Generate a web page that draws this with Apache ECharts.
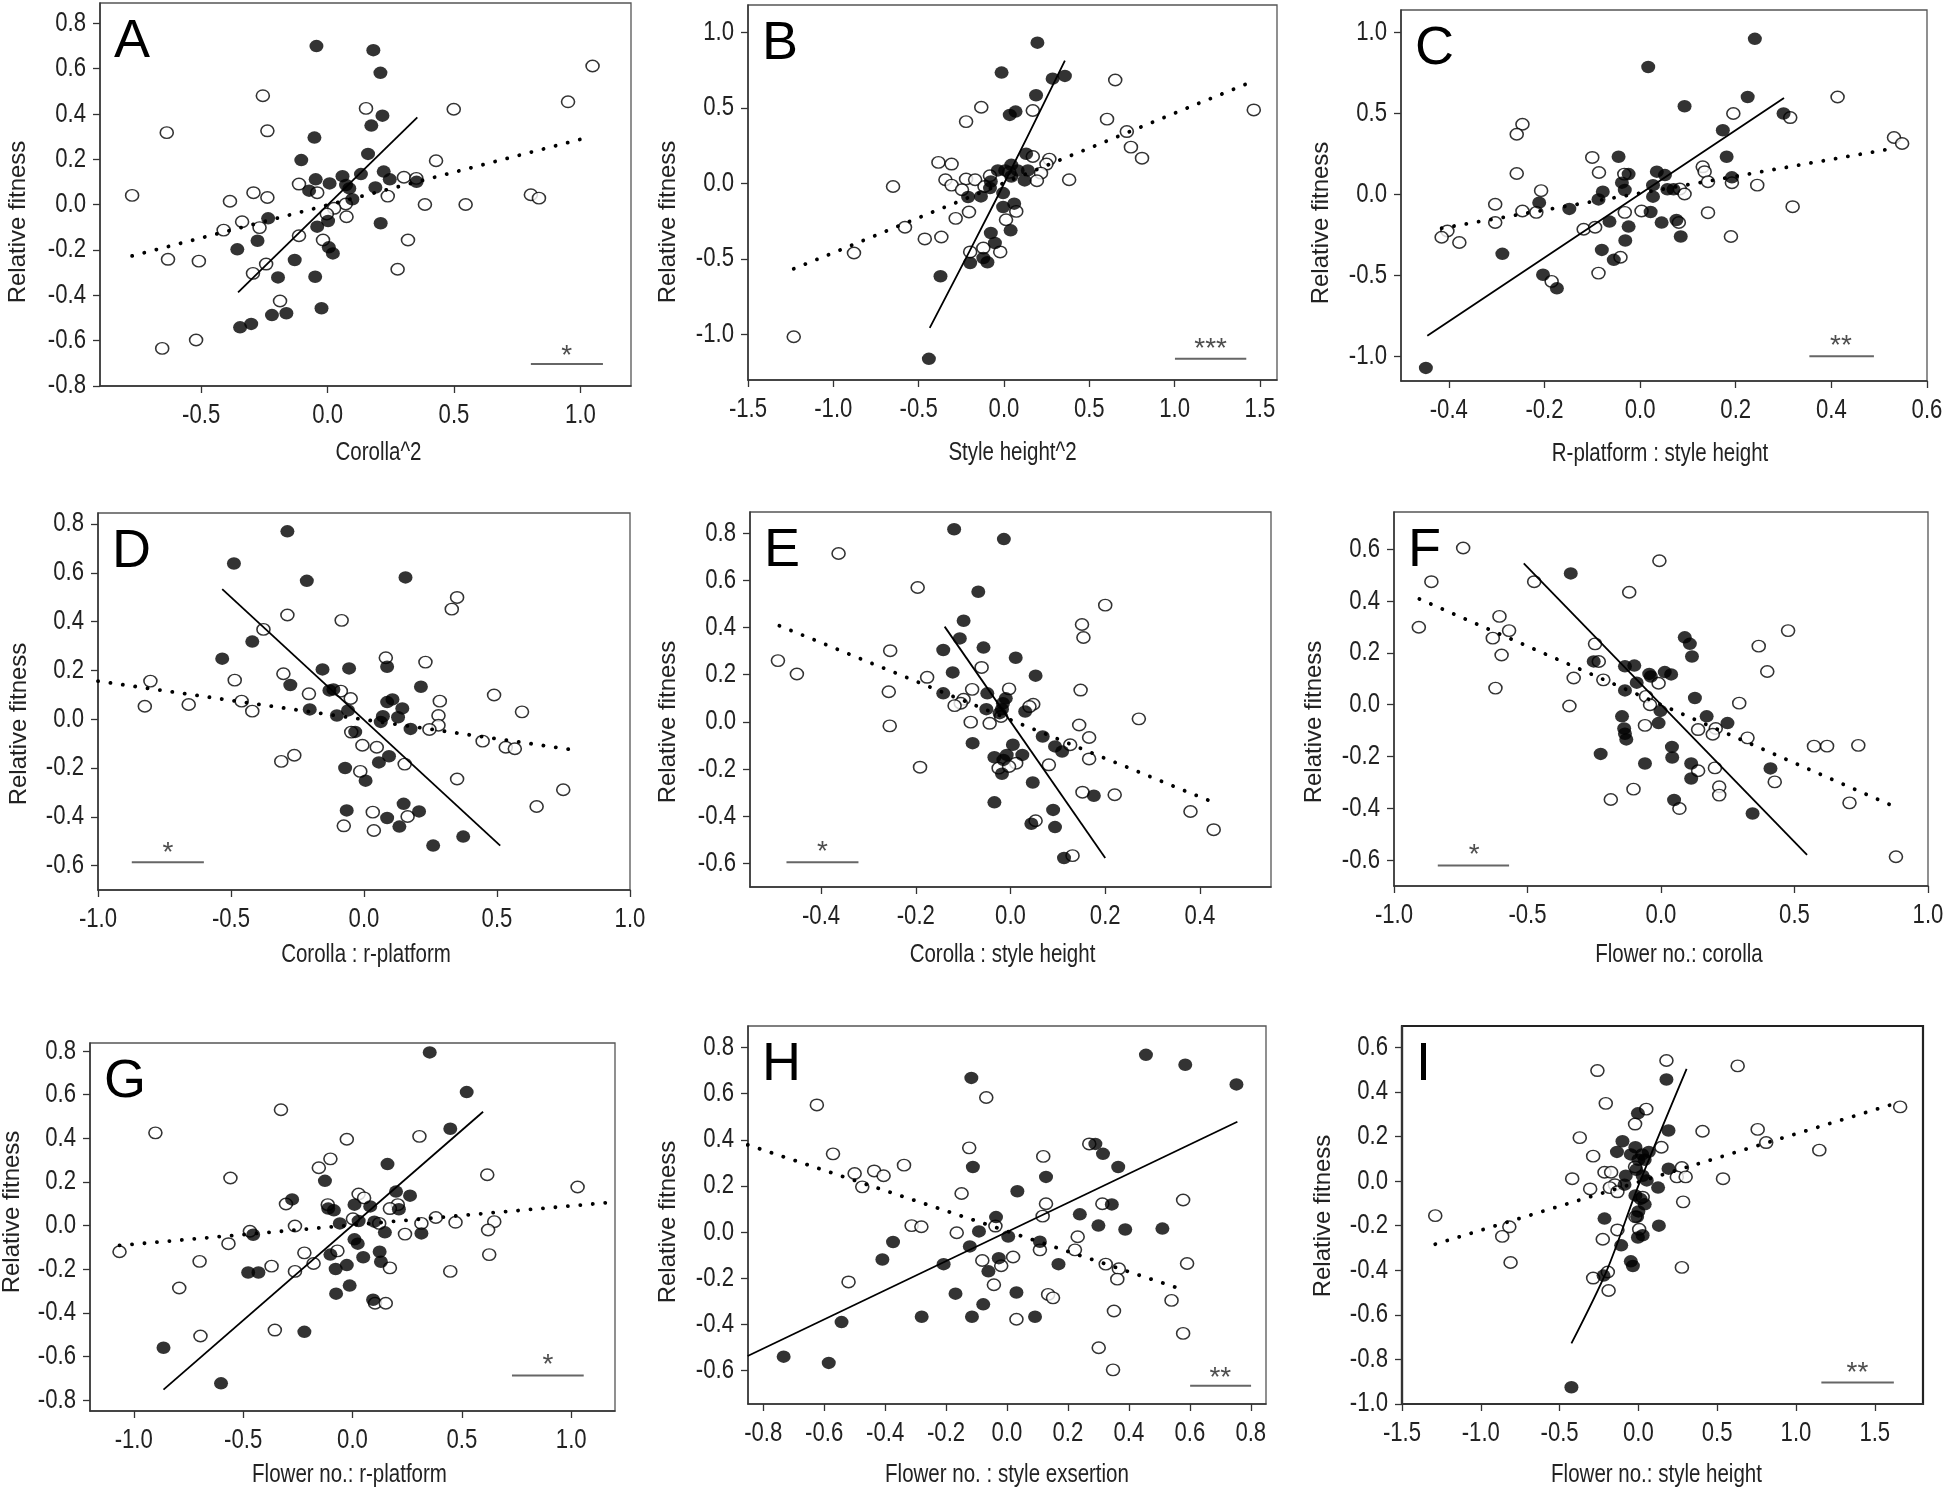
<!DOCTYPE html>
<html>
<head>
<meta charset="utf-8">
<script src="https://cdn.jsdelivr.net/npm/echarts@6/dist/echarts.min.js"></script>
<style>
html,body{margin:0;padding:0;background:#fff;}
#chart{width:1946px;height:1491px;}
</style>
</head>
<body>
<div id="chart"></div>
<script>
// ---------------- DATA ----------------
const panelLetters = ['A','B','C','D','E','F','G','H','I'];
const xTitles = ['Corolla^2','Style height^2','R-platform : style height',
  'Corolla : r-platform','Corolla : style height','Flower no.: corolla',
  'Flower no.: r-platform','Flower no. : style exsertion','Flower no.: style height'];
const yTitle = 'Relative fitness';

const xTicksA = [-0.5,0,0.5,1.0];
const yTicksA = [-0.8,-0.6,-0.4,-0.2,0,0.2,0.4,0.6,0.8];
const filledA = [[-0.044,0.70],[0.181,0.682],[0.209,0.582],[0.217,0.393],[0.173,0.349],[-0.052,0.296],[0.160,0.224],[-0.104,0.197],[0.222,0.146],[0.132,0.135],[0.246,0.112],[0.352,0.101],[0.059,0.126],[-0.047,0.112],[0.008,0.094],[0.073,0.087],[0.086,0.072],[0.189,0.076],[-0.073,0.062],[0.098,0.024],[-0.235,-0.06],[0.210,-0.082],[0.002,-0.072],[-0.041,-0.097],[-0.277,-0.159],[-0.357,-0.197],[0.005,-0.188],[0.021,-0.215],[-0.130,-0.244],[-0.196,-0.321],[-0.049,-0.318],[-0.024,-0.457],[-0.220,-0.487],[-0.163,-0.479],[-0.346,-0.541],[-0.302,-0.526]];
const openA = [[1.048,0.612],[0.951,0.454],[0.499,0.421],[0.152,0.425],[-0.256,0.481],[-0.238,0.326],[-0.636,0.318],[0.429,0.194],[0.302,0.121],[0.351,0.116],[-0.113,0.091],[-0.041,0.053],[-0.293,0.053],[-0.238,0.032],[-0.773,0.041],[-0.386,0.015],[0.072,0.003],[0.026,-0.016],[-0.003,-0.041],[0.075,-0.053],[0.238,0.038],[0.385,0.001],[0.546,0.001],[0.804,0.044],[0.836,0.029],[-0.338,-0.075],[-0.269,-0.101],[-0.411,-0.112],[-0.113,-0.137],[-0.018,-0.156],[0.318,-0.156],[-0.631,-0.241],[-0.509,-0.249],[-0.243,-0.262],[-0.295,-0.303],[0.277,-0.285],[-0.188,-0.425],[-0.520,-0.597],[-0.654,-0.634]];
const solidA = [[-0.354,-0.387],[0.355,0.385]];
const dottedA = [[-0.773,-0.226],[1.016,0.293]];

const xTicksB = [-1.5,-1.0,-0.5,0,0.5,1.0,1.5];
const yTicksB = [-1.0,-0.5,0,0.5,1.0];
const filledB = [[0.196,0.931],[-0.014,0.733],[0.285,0.693],[0.357,0.711],[0.188,0.583],[0.034,0.453],[0.068,0.475],[0.130,0.196],[-0.036,0.086],[0.007,0.086],[0.043,0.123],[0.080,0.086],[0.140,0.086],[0.043,0.046],[0.121,0.020],[-0.077,0.013],[-0.082,-0.031],[-0.005,-0.064],[-0.210,-0.090],[-0.135,-0.086],[-0.005,-0.156],[0.060,-0.134],[-0.077,-0.328],[0.039,-0.310],[-0.053,-0.394],[-0.121,-0.493],[-0.097,-0.521],[-0.198,-0.526],[-0.372,-0.614],[-0.440,-1.160]];
const openB = [[0.652,0.684],[1.464,0.486],[-0.133,0.504],[0.169,0.482],[-0.222,0.409],[0.604,0.425],[0.720,0.343],[0.744,0.240],[0.809,0.167],[-0.384,0.139],[-0.307,0.128],[0.169,0.178],[0.266,0.161],[0.249,0.128],[0.217,0.068],[0.382,0.024],[-0.343,0.024],[-0.222,0.029],[-0.169,0.024],[-0.307,-0.011],[-0.650,-0.020],[-0.246,-0.042],[-0.082,0.051],[0.031,0.073],[0.193,0.018],[-0.114,-0.020],[0.072,-0.185],[-0.205,-0.189],[-0.283,-0.231],[0.012,-0.240],[-0.580,-0.290],[-0.464,-0.367],[-0.367,-0.354],[-0.121,-0.427],[-0.198,-0.453],[-0.022,-0.453],[-0.879,-0.460],[-1.232,-1.014]];
const solidB = [[-0.435,-0.955],[-0.03,-0.07],[0.357,0.812]];
const dottedB = [[-1.232,-0.565],[1.420,0.658]];

const xTicksC = [-0.4,-0.2,0,0.2,0.4,0.6];
const yTicksC = [-1.0,-0.5,0,0.5,1.0];
const filledC = [[0.240,0.962],[0.017,0.788],[0.225,0.603],[0.093,0.546],[0.300,0.501],[0.173,0.398],[-0.045,0.234],[0.181,0.234],[0.035,0.142],[-0.024,0.127],[0.052,0.121],[-0.038,0.074],[0.027,0.059],[-0.032,0.029],[0.192,0.107],[-0.078,0.018],[0.057,0.033],[0.070,0.033],[0.027,-0.012],[-0.087,-0.029],[-0.211,-0.049],[-0.148,-0.088],[0.022,-0.107],[-0.064,-0.166],[0.045,-0.172],[0.076,-0.156],[-0.024,-0.197],[0.085,-0.258],[-0.031,-0.283],[-0.288,-0.365],[-0.080,-0.341],[-0.055,-0.402],[-0.203,-0.494],[-0.174,-0.578],[-0.448,-1.069]];
const openC = [[0.413,0.603],[0.195,0.501],[0.314,0.476],[-0.246,0.435],[-0.258,0.373],[0.531,0.353],[0.548,0.316],[-0.100,0.230],[0.131,0.172],[0.135,0.142],[-0.258,0.131],[-0.086,0.137],[-0.033,0.127],[0.142,0.080],[0.192,0.074],[0.245,0.059],[-0.207,0.025],[0.083,0.035],[0.093,0.004],[-0.303,-0.059],[-0.246,-0.101],[-0.217,-0.109],[0.003,-0.101],[-0.032,-0.109],[0.142,-0.111],[0.319,-0.074],[-0.303,-0.172],[-0.118,-0.213],[-0.094,-0.201],[0.081,-0.172],[-0.403,-0.224],[-0.415,-0.263],[-0.378,-0.295],[0.190,-0.258],[-0.041,-0.386],[-0.087,-0.484],[-0.185,-0.535]];
const solidC = [[-0.445,-0.870],[0.301,0.597]];
const dottedC = [[-0.415,-0.207],[0.528,0.285]];

const xTicksD = [-1.0,-0.5,0,0.5,1.0];
const yTicksD = [-0.6,-0.4,-0.2,0,0.2,0.4,0.6,0.8];
const filledD = [[-0.288,0.770],[-0.489,0.638],[-0.215,0.567],[0.156,0.581],[-0.420,0.318],[-0.533,0.248],[-0.156,0.204],[-0.056,0.208],[0.087,0.215],[-0.277,0.140],[0.214,0.133],[-0.130,0.118],[-0.115,0.122],[0.087,0.070],[0.107,0.081],[-0.204,0.040],[-0.060,0.036],[-0.102,0.015],[0.144,0.044],[0.071,0.012],[0.128,0.008],[0.063,-0.011],[0.175,-0.040],[-0.033,-0.052],[0.094,-0.152],[0.056,-0.177],[-0.071,-0.200],[0.006,-0.252],[0.149,-0.347],[0.207,-0.378],[-0.065,-0.374],[0.087,-0.405],[0.133,-0.440],[0.373,-0.481],[0.260,-0.518]];
const openD = [[0.350,0.499],[0.330,0.451],[-0.084,0.405],[-0.288,0.427],[-0.378,0.368],[0.082,0.252],[0.231,0.234],[-0.303,0.186],[-0.803,0.156],[-0.486,0.160],[-0.207,0.104],[-0.087,0.115],[-0.050,0.085],[-0.460,0.074],[0.285,0.074],[0.489,0.099],[-0.824,0.053],[-0.659,0.060],[-0.420,0.033],[0.280,0.015],[0.594,0.030],[0.280,-0.025],[0.246,-0.042],[-0.048,-0.053],[0.446,-0.090],[0.533,-0.115],[0.567,-0.121],[-0.006,-0.107],[0.048,-0.115],[-0.262,-0.148],[-0.311,-0.173],[0.153,-0.184],[-0.014,-0.214],[0.350,-0.245],[0.749,-0.289],[0.649,-0.358],[0.033,-0.381],[0.164,-0.399],[-0.076,-0.437],[0.037,-0.456]];
const solidD = [[-0.533,0.533],[0.512,-0.518]];
const dottedD = [[-1.0,0.156],[0.783,-0.125]];

const xTicksE = [-0.4,-0.2,0,0.2,0.4];
const yTicksE = [-0.6,-0.4,-0.2,0,0.2,0.4,0.6,0.8];
const filledE = [[-0.119,0.817],[-0.014,0.775],[-0.068,0.552],[-0.099,0.429],[-0.107,0.354],[-0.142,0.305],[-0.057,0.315],[0.011,0.272],[-0.122,0.210],[0.053,0.196],[-0.142,0.121],[-0.049,0.121],[-0.010,0.100],[-0.016,0.079],[-0.051,0.054],[-0.018,0.054],[-0.023,0.037],[0.031,0.044],[0.068,-0.062],[-0.080,-0.090],[0.005,-0.097],[0.094,-0.104],[0.109,-0.126],[-0.034,-0.150],[-0.008,-0.140],[0.025,-0.140],[-0.015,-0.161],[-0.018,-0.220],[0.047,-0.257],[0.176,-0.313],[-0.034,-0.341],[0.090,-0.373],[0.044,-0.432],[0.094,-0.446],[0.113,-0.577]];
const openE = [[-0.363,0.714],[-0.196,0.570],[0.200,0.495],[0.151,0.413],[0.154,0.358],[-0.254,0.302],[-0.491,0.260],[-0.451,0.203],[-0.061,0.231],[-0.176,0.189],[-0.081,0.138],[-0.003,0.140],[0.148,0.135],[-0.257,0.128],[-0.099,0.096],[-0.105,0.079],[-0.118,0.069],[0.048,0.075],[0.040,0.065],[-0.020,0.023],[-0.084,-0.001],[-0.044,-0.006],[-0.255,-0.017],[0.271,0.013],[0.145,-0.013],[0.166,-0.066],[0.126,-0.097],[0.166,-0.157],[0.012,-0.175],[0.081,-0.182],[-0.191,-0.192],[-0.025,-0.196],[-0.003,-0.189],[0.152,-0.298],[0.220,-0.309],[0.053,-0.419],[0.380,-0.380],[0.429,-0.457],[0.131,-0.567]];
const solidE = [[-0.139,0.404],[0.200,-0.577]];
const dottedE = [[-0.488,0.408],[0.438,-0.349]];

const xTicksF = [-1.0,-0.5,0,0.5,1.0];
const yTicksF = [-0.6,-0.4,-0.2,0,0.2,0.4,0.6];
const filledF = [[-0.338,0.507],[0.089,0.260],[0.108,0.235],[0.116,0.186],[-0.252,0.167],[-0.135,0.148],[-0.100,0.151],[-0.044,0.119],[-0.038,0.109],[0.014,0.126],[0.038,0.117],[-0.135,0.055],[-0.091,0.085],[0.127,0.026],[-0.002,-0.024],[0.171,-0.045],[-0.146,-0.045],[0.249,-0.071],[-0.009,-0.071],[-0.138,-0.092],[-0.135,-0.112],[-0.130,-0.134],[0.041,-0.163],[-0.226,-0.190],[0.042,-0.204],[-0.060,-0.227],[0.113,-0.227],[0.410,-0.246],[0.113,-0.285],[0.049,-0.368],[0.343,-0.420]];
const openF = [[-0.741,0.605],[-0.006,0.556],[-0.860,0.475],[-0.475,0.475],[-0.119,0.434],[-0.605,0.341],[-0.907,0.299],[-0.630,0.257],[-0.569,0.286],[0.476,0.286],[-0.597,0.192],[0.366,0.226],[-0.247,0.235],[-0.233,0.167],[0.398,0.128],[-0.327,0.103],[-0.216,0.096],[-0.620,0.064],[-0.009,0.083],[-0.056,0.032],[-0.041,0.000],[-0.343,-0.005],[0.293,0.006],[-0.060,-0.080],[0.139,-0.096],[0.205,-0.092],[0.194,-0.114],[0.324,-0.128],[0.573,-0.160],[0.622,-0.160],[0.739,-0.157],[0.202,-0.244],[0.139,-0.255],[0.218,-0.317],[0.218,-0.349],[-0.103,-0.326],[-0.188,-0.366],[0.426,-0.298],[0.069,-0.401],[0.706,-0.379],[0.880,-0.587]];
const solidF = [[-0.514,0.546],[0.547,-0.580]];
const dottedF = [[-0.905,0.408],[0.871,-0.392]];

const xTicksG = [-1.0,-0.5,0,0.5,1.0];
const yTicksG = [-0.8,-0.6,-0.4,-0.2,0,0.2,0.4,0.6,0.8];
const filledG = [[0.353,0.794],[0.522,0.612],[0.447,0.444],[0.160,0.282],[-0.126,0.205],[-0.276,0.120],[0.199,0.156],[0.263,0.137],[-0.111,0.078],[-0.085,0.070],[0.009,0.096],[0.081,0.088],[0.212,0.075],[-0.058,0.010],[0.028,0.021],[0.100,0.018],[0.148,-0.031],[0.315,-0.036],[-0.454,-0.042],[0.009,-0.063],[0.024,-0.083],[-0.101,-0.133],[0.124,-0.120],[0.130,-0.166],[0.049,-0.145],[-0.026,-0.181],[-0.077,-0.199],[-0.477,-0.215],[-0.430,-0.215],[-0.013,-0.275],[-0.075,-0.312],[0.094,-0.340],[-0.220,-0.487],[-0.864,-0.560],[-0.601,-0.723]];
const openG = [[-0.327,0.531],[-0.901,0.425],[-0.026,0.396],[0.306,0.409],[-0.101,0.306],[-0.154,0.265],[-0.558,0.218],[0.616,0.233],[1.029,0.177],[0.028,0.145],[0.053,0.127],[-0.304,0.099],[-0.113,0.096],[0.207,0.096],[0.171,0.078],[0.002,0.031],[0.381,0.037],[-0.263,-0.002],[0.122,0.010],[0.315,0.010],[0.471,0.015],[0.648,0.018],[-0.469,-0.026],[0.620,-0.020],[0.240,-0.039],[-0.567,-0.083],[-1.065,-0.120],[-0.069,-0.116],[-0.220,-0.125],[0.625,-0.133],[-0.699,-0.164],[-0.178,-0.174],[-0.370,-0.186],[-0.263,-0.210],[0.171,-0.194],[0.447,-0.210],[-0.792,-0.286],[0.103,-0.356],[0.152,-0.356],[-0.355,-0.479],[-0.695,-0.506]];
const solidG = [[-0.864,-0.752],[0.597,0.522]];
const dottedG = [[-1.065,-0.091],[1.189,0.107]];

const xTicksH = [-0.8,-0.6,-0.4,-0.2,0,0.2,0.4,0.6,0.8];
const yTicksH = [-0.6,-0.4,-0.2,0,0.2,0.4,0.6,0.8];
const filledH = [[0.456,0.768],[0.585,0.725],[0.753,0.640],[-0.117,0.668],[0.290,0.382],[0.315,0.339],[-0.112,0.282],[0.365,0.282],[0.128,0.239],[0.034,0.177],[0.344,0.120],[0.239,0.077],[-0.036,0.065],[0.300,0.028],[-0.092,0.003],[0.388,0.011],[0.510,0.015],[0.004,-0.019],[-0.374,-0.043],[0.108,-0.042],[-0.122,-0.062],[-0.409,-0.119],[-0.027,-0.113],[-0.208,-0.139],[0.169,-0.139],[-0.061,-0.170],[-0.169,-0.267],[0.031,-0.262],[-0.078,-0.313],[-0.280,-0.367],[-0.115,-0.367],[0.092,-0.367],[-0.543,-0.390],[-0.733,-0.540],[-0.585,-0.567]];
const openH = [[-0.624,0.551],[-0.068,0.583],[-0.571,0.339],[-0.124,0.365],[0.270,0.382],[0.119,0.328],[-0.338,0.290],[-0.436,0.265],[-0.405,0.244],[-0.500,0.254],[-0.475,0.196],[-0.149,0.167],[0.128,0.123],[0.313,0.123],[0.578,0.139],[0.117,0.069],[-0.038,0.026],[-0.313,0.028],[-0.281,0.023],[-0.165,-0.003],[0.232,-0.020],[0.108,-0.077],[0.223,-0.077],[-0.081,-0.123],[-0.019,-0.146],[0.020,-0.108],[0.324,-0.139],[0.367,-0.159],[0.591,-0.136],[0.362,-0.204],[-0.043,-0.228],[-0.520,-0.216],[0.135,-0.270],[0.151,-0.285],[0.540,-0.296],[0.031,-0.378],[0.351,-0.342],[0.578,-0.439],[0.301,-0.501],[0.348,-0.597]];
const solidH = [[-0.851,-0.537],[0.756,0.478]];
const dottedH = [[-0.851,0.378],[0.564,-0.244]];

const xTicksI = [-1.5,-1.0,-0.5,0,0.5,1.0,1.5];
const yTicksI = [-1.0,-0.8,-0.6,-0.4,-0.2,0,0.2,0.4,0.6];
const filledI = [[0.178,0.456],[-0.003,0.304],[0.191,0.227],[-0.101,0.179],[-0.136,0.131],[-0.019,0.152],[-0.048,0.120],[0.024,0.120],[0.066,0.131],[0.000,0.096],[0.040,0.096],[0.191,0.056],[-0.013,0.051],[0.027,0.024],[-0.080,0.024],[-0.088,-0.016],[0.053,0.003],[0.125,-0.029],[-0.019,-0.064],[0.013,-0.080],[0.040,-0.104],[0.000,-0.136],[-0.008,-0.160],[-0.215,-0.168],[0.130,-0.200],[0.027,-0.243],[-0.003,-0.253],[-0.109,-0.288],[-0.048,-0.360],[-0.035,-0.381],[-0.221,-0.424],[-0.425,-0.925]];
const openI = [[0.178,0.541],[0.630,0.517],[-0.260,0.496],[-0.207,0.349],[0.050,0.323],[-0.021,0.256],[0.407,0.224],[0.757,0.232],[-0.372,0.195],[0.811,0.173],[0.146,0.152],[1.148,0.139],[-0.287,0.112],[1.661,0.333],[-0.021,0.064],[-0.215,0.040],[-0.173,0.040],[0.276,0.061],[-0.420,0.011],[0.244,0.019],[0.300,0.019],[0.537,0.011],[-0.306,-0.035],[-0.149,-0.016],[-0.181,-0.029],[-0.133,-0.048],[0.027,-0.072],[0.284,-0.093],[-0.019,-0.160],[-1.289,-0.155],[-0.819,-0.205],[-0.864,-0.248],[-0.133,-0.219],[0.005,-0.216],[-0.226,-0.261],[-0.811,-0.365],[0.276,-0.387],[-0.194,-0.408],[-0.287,-0.435],[-0.189,-0.491]];
const solidI = [[-0.425,-0.728],[-0.2,-0.40],[0.0,-0.02],[0.306,0.504]];
const dottedI = [[-1.289,-0.283],[1.661,0.355]];

// significance markers: [x1, x2, y] bar and [x, y, text] label (data units)
const sigBars = [[0.804,1.089,-0.703],[1.002,1.420,-1.160],[0.354,0.489,-0.997],[-0.873,-0.602,-0.586],[-0.473,-0.321,-0.595],[-0.836,-0.569,-0.621],[0.729,1.057,-0.687],[0.601,0.801,-0.666],[1.161,1.621,-0.904]];
const sigLabels = [[0.946,-0.64,'*'],[1.211,-1.05,'***'],[0.42,-0.89,'**'],[-0.737,-0.52,'*'],[-0.397,-0.525,'*'],[-0.70,-0.555,'*'],[0.893,-0.61,'*'],[0.70,-0.605,'**'],[1.39,-0.83,'**']];

// ---------------- LAYOUT (pixels) ----------------
// tdx: x-title horizontal shift; rx/ry: y-title centre; bw: frame width
const layout = [
  {left:100, top:3,   width:531, height:383, xr:[-0.9,1.2],   yr:[-0.8,0.89],   gx:55, tdx:13,  rx:18,   ry:222,  bw:1.3},
  {left:748, top:5,   width:529, height:375, xr:[-1.5,1.6],   yr:[-1.3,1.18],   gx:61, tdx:0,   rx:668,  ry:222,  bw:1.3},
  {left:1401,top:10,  width:526, height:371, xr:[-0.5,0.6],   yr:[-1.15,1.14],  gx:61, tdx:-4,  rx:1321, ry:223,  bw:1.3},
  {left:98,  top:513, width:532, height:377, xr:[-1.0,1.0],   yr:[-0.7,0.845],  gx:53, tdx:2,   rx:19,   ry:724,  bw:1.3},
  {left:750, top:512, width:521, height:375, xr:[-0.55,0.55], yr:[-0.70,0.89],  gx:56, tdx:-8,  rx:668,  ry:722,  bw:1.3},
  {left:1394,top:512, width:534, height:374, xr:[-1.0,1.0],   yr:[-0.70,0.744], gx:57, tdx:18,  rx:1314, ry:722,  bw:1.3},
  {left:90,  top:1043,width:525, height:368, xr:[-1.2,1.2],   yr:[-0.85,0.837], gx:52, tdx:-3,  rx:12,   ry:1212, bw:1.3},
  {left:748, top:1026,width:518, height:378, xr:[-0.85,0.85], yr:[-0.745,0.893],gx:59, tdx:0,   rx:668,  ry:1222, bw:1.3},
  {left:1402,top:1026,width:521, height:378, xr:[-1.5,1.806], yr:[-1.0,0.696],  gx:59, tdx:-6,  rx:1323, ry:1216, bw:2.2}
];

const xTicks = [xTicksA,xTicksB,xTicksC,xTicksD,xTicksE,xTicksF,xTicksG,xTicksH,xTicksI];
const yTicks = [yTicksA,yTicksB,yTicksC,yTicksD,yTicksE,yTicksF,yTicksG,yTicksH,yTicksI];
const filled = [filledA,filledB,filledC,filledD,filledE,filledF,filledG,filledH,filledI];
const opened = [openA,openB,openC,openD,openE,openF,openG,openH,openI];
const solid = [solidA,solidB,solidC,solidD,solidE,solidF,solidG,solidH,solidI];
const dotted = [dottedA,dottedB,dottedC,dottedD,dottedE,dottedF,dottedG,dottedH,dottedI];

const FONT = "'Liberation Sans', Arial, Helvetica, sans-serif";
const TXT = '#222';
const NARROW = 0.82;
const fmt = v => (Math.abs(v) < 1e-9 ? 0 : v).toFixed(1);

const grids = [], xAxes = [], yAxes = [], series = [], letters = [];
layout.forEach((L, i) => {
  const frameColor = L.bw > 2 ? '#222' : '#555';
  grids.push({left:L.left, top:L.top, width:L.width, height:L.height, show:true,
    borderColor:frameColor, borderWidth:L.bw, backgroundColor:'transparent'});
  xAxes.push({
    gridIndex:i, type:'value', min:L.xr[0], max:L.xr[1],
    axisLine:{show:true, onZero:false, lineStyle:{color:'#333', width:Math.max(1.5, L.bw)}},
    axisTick:{show:true, inside:false, length:7, customValues:xTicks[i], lineStyle:{color:'#333', width:1.3}},
    axisLabel:{show:false}, splitLine:{show:false}
  });
  yAxes.push({
    gridIndex:i, type:'value', min:L.yr[0], max:L.yr[1],
    axisLine:{show:true, onZero:false, lineStyle:{color:'#333', width:Math.max(1.5, L.bw)}},
    axisTick:{show:true, inside:false, length:7, customValues:yTicks[i], lineStyle:{color:'#333', width:1.3}},
    axisLabel:{show:false}, splitLine:{show:false}
  });
  series.push({type:'scatter', xAxisIndex:i, yAxisIndex:i, data:opened[i], symbol:'circle',
    symbolSize:[13,11.5], itemStyle:{color:'#fff', borderColor:'#000', borderWidth:1.5}, z:2, silent:true});
  series.push({type:'scatter', xAxisIndex:i, yAxisIndex:i, data:filled[i], symbol:'circle',
    symbolSize:[14,12.5], itemStyle:{color:'#000', borderColor:'#000', borderWidth:0}, z:3, silent:true});
  series.push({type:'line', xAxisIndex:i, yAxisIndex:i, data:solid[i], symbol:'none', smooth:solid[i].length>2 ? 0.3 : false,
    lineStyle:{color:'#000', width:1.8}, z:4, silent:true});
  series.push({type:'line', xAxisIndex:i, yAxisIndex:i, data:dotted[i], symbol:'none',
    lineStyle:{color:'#000', width:3.8, type:[0.1,12.4], cap:'round'}, z:4, silent:true});
  const b = sigBars[i];
  series.push({type:'line', xAxisIndex:i, yAxisIndex:i, data:[[b[0],b[2]],[b[1],b[2]]], symbol:'none',
    lineStyle:{color:'#666', width:2}, z:4, silent:true});
  const s = sigLabels[i];
  series.push({type:'scatter', xAxisIndex:i, yAxisIndex:i, data:[[s[0],s[1]]], symbolSize:2,
    itemStyle:{color:'rgba(255,255,255,0)'}, z:5, silent:true,
    label:{show:true, position:'inside', formatter:s[2], fontSize:28, color:TXT, fontFamily:FONT, offset:[0,7]}});
  letters.push({type:'text', left:L.left+14, top:L.top+12, z:10, silent:true,
    style:{text:panelLetters[i], font:'54px ' + FONT, fill:'#000'}});
});

const chart = echarts.init(document.getElementById('chart'), null, {renderer:'canvas'});
chart.setOption({
  animation:false,
  backgroundColor:'#fff',
  grid:grids, xAxis:xAxes, yAxis:yAxes, series:series, graphic:letters
});

// Tick labels and titles: placed through the axes' own scales, drawn slightly condensed
const texts = [];
function txt(x, y, s, size, align, valign, sx, rot) {
  return {type:'text', x:x, y:y, scaleX:sx, rotation:rot || 0, silent:true, z:10,
    style:{text:s, fontSize:size, fontFamily:FONT, fill:TXT,
      align:align, verticalAlign:valign, textAlign:align, textVerticalAlign:valign}};
}
layout.forEach((L, i) => {
  const bottom = L.top + L.height;
  xTicks[i].forEach(v => {
    const px = chart.convertToPixel({xAxisIndex:i}, v);
    texts.push(txt(px, bottom + 16, fmt(v), 27, 'center', 'top', NARROW));
  });
  yTicks[i].forEach(v => {
    const py = chart.convertToPixel({yAxisIndex:i}, v);
    texts.push(txt(L.left - 14, py, fmt(v), 27, 'right', 'middle', NARROW));
  });
  texts.push(txt(L.left + L.width / 2 + L.tdx, bottom + L.gx, xTitles[i], 25, 'center', 'top', NARROW));
  texts.push(txt(L.rx, L.ry, yTitle, 24, 'center', 'middle', 1, Math.PI / 2));
});
chart.setOption({graphic: letters.concat(texts)});
</script>
</body>
</html>
